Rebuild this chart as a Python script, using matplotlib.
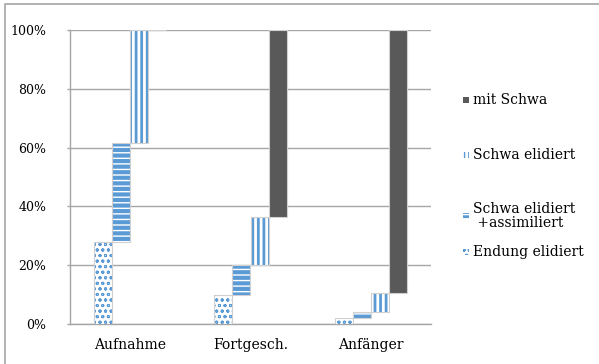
import matplotlib
matplotlib.use('Agg')
import matplotlib.pyplot as plt
from matplotlib.patches import Rectangle
from matplotlib.lines import Line2D
import numpy as np

# categories and segment sizes (percent), stacked as floating steps
categories = ['Aufnahme', 'Fortgesch.', 'Anfänger']
series = ['Endung elidiert', 'Schwa elidiert\n +assimiliert', 'Schwa elidiert', 'mit Schwa']
endung = [28, 10, 2]
assimiliert = [33.5, 10, 2]
elidiert = [38.5, 16.5, 6.5]
mit_schwa = [0, 63.5, 89.5]
yticks = [0, 20, 40, 60, 80, 100]

blue = '#5b9bd5'
grey = '#595959'
styles = [
    dict(facecolor='white', edgecolor=blue, hatch='ooo'),
    dict(facecolor=blue, edgecolor='white', hatch='---'),
    dict(facecolor='white', edgecolor=blue, hatch='|||'),
    dict(facecolor=grey, edgecolor=grey, hatch=None),
]
hatch_lw = [0.7, 1.0, 2.0, 1.0]
legend_hatch = ['ooo', '----', '||||', None]

plt.rcParams['font.family'] = ['DejaVu Serif']

fig = plt.figure(figsize=(5.99, 3.64), dpi=100)
ax = fig.add_axes([70 / 599, 1 - 324 / 364, 361 / 599, 294 / 364])

x = np.arange(len(categories))
w = 0.15
values = [endung, assimiliert, elidiert, mit_schwa]
bottom = np.zeros(len(categories))
for i, (vals, st) in enumerate(zip(values, styles)):
    vals = np.array(vals, dtype=float)
    pos = x + (i - 1.5) * w
    plt.rcParams['hatch.linewidth'] = hatch_lw[i]
    bars = ax.bar(pos, vals, w, bottom=bottom, linewidth=0, zorder=3, **st)
    for b in bars:
        if hasattr(b, 'set_hatch_linewidth'):
            b.set_hatch_linewidth(hatch_lw[i])
    ax.bar(pos, vals, w, bottom=bottom, facecolor='none', edgecolor='#d0d0d0',
           linewidth=0.8, zorder=4)
    bottom = bottom + vals

ax.set_xlim(-0.5, 2.5)
ax.set_ylim(0, 100)
ax.set_yticks(yticks)
ax.set_yticklabels([f'{t}%' for t in yticks], fontsize=9)
ax.set_xticks(x)
ax.set_xticklabels(categories, fontsize=10)
ax.tick_params(axis='x', length=0, pad=10)
ax.tick_params(axis='y', length=2, width=1, color='#a6a6a6', pad=15)
ax.grid(axis='y', color='#a6a6a6', linewidth=1, zorder=0)
for s in ['top', 'right']:
    ax.spines[s].set_visible(False)
for s in ['left', 'bottom']:
    ax.spines[s].set_color('#a6a6a6')
    ax.spines[s].set_linewidth(1)

# legend entries placed by hand (Excel-style spacing)
leg_y = [100, 155, 216, 252]
leg_order = [3, 2, 1, 0]
for yy, i in zip(leg_y, leg_order):
    st = dict(styles[i])
    st['hatch'] = legend_hatch[i]
    plt.rcParams['hatch.linewidth'] = 1.0
    r = Rectangle((463 / 599, 1 - (yy + 3) / 364), 6 / 599, 6 / 364,
                  transform=fig.transFigure, linewidth=0, **st)
    fig.patches.append(r)
    fig.text(473 / 599, 1 - yy / 364, series[i], fontsize=10, va='center', ha='left',
             linespacing=1.0)

# outer chart border (only left and top edges are inside the image)
fig.add_artist(Line2D([5 / 599, 5 / 599, 1], [0, 1 - 4 / 364, 1 - 4 / 364],
                      transform=fig.transFigure, color='#a6a6a6', linewidth=1.2))

fig.savefig('out.png', dpi=100)
